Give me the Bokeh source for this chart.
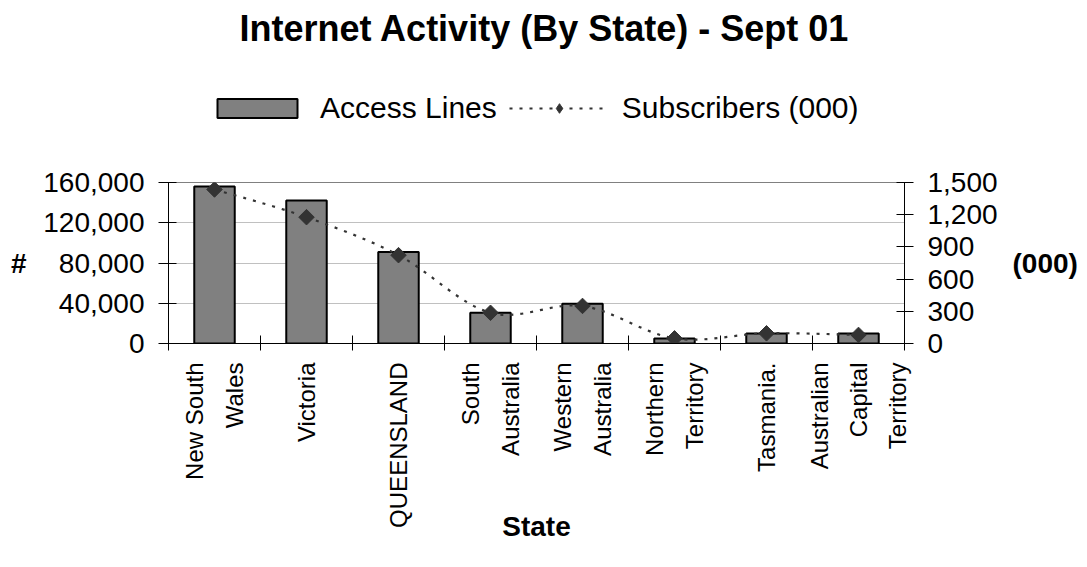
from math import pi
from bokeh.plotting import figure
from bokeh.layouts import column
from bokeh.models import (FactorRange, Range1d, LinearAxis, CategoricalAxis, FixedTicker,
                          NumeralTickFormatter, Legend, LegendItem, Label, Grid)
from bokeh.embed import file_html
from bokeh.resources import INLINE

# ---------------- data ----------------
states = ["New South\nWales", "Victoria", "QUEENSLAND", "South\nAustralia",
          "Western\nAustralia", "Northern\nTerritory", "Tasmania.",
          "Australian\nCapital\nTerritory"]
access_lines = [156000, 142000, 91000, 30500, 39500, 5000, 10000, 10000]
subscribers = [1435, 1177, 823, 286, 350, 48, 95, 80]
left_ticks = [0, 40000, 80000, 120000, 160000]
right_ticks = [0, 300, 600, 900, 1200, 1500]
title_text = "Internet Activity (By State) - Sept 01"
x_title = "State"
left_title = "#"
right_title = "(000)"
bar_name = "Access Lines"
line_name = "Subscribers (000)"

FONT = "Liberation Sans"
BAR_FILL = "#808080"
MARK = "#333333"
BAR_STYLE = dict(fill_color=BAR_FILL, line_color="black", line_width=2)
LINE_STYLE = dict(line_color=MARK, line_width=2.2, line_dash="3 7")
MARK_STYLE = dict(marker="square", angle=pi / 4, size=11, fill_color=MARK, line_color=MARK)

HEADER_H = 162

# ---------------- header: title + legend ----------------
# The header holds hidden copies of the series so that the legend swatches are
# drawn with the real glyph styles.
head = figure(width=1087, height=HEADER_H, x_range=FactorRange(*states),
              y_range=Range1d(-2, -1), title=None, output_backend="svg",
              toolbar_location=None, x_axis_location=None, y_axis_location=None,
              min_border=0)
head.outline_line_color = None
head.grid.visible = False
head.background_fill_color = "white"
head.border_fill_color = "white"

head.add_layout(Label(x=376, y=HEADER_H - 28, x_units="screen", y_units="screen",
                      text=title_text, text_font=FONT, text_font_size="36px",
                      text_font_style="bold", text_align="center",
                      text_baseline="middle", text_color="black"))

lg_bar = head.vbar(x=states, top=access_lines, width=0.44, visible=False, **BAR_STYLE)
lg_line = head.line(x=states, y=subscribers, visible=False, **LINE_STYLE)
lg_pts = head.scatter(x=states, y=subscribers, visible=False, marker="diamond",
                      size=16, fill_color=MARK, line_color=MARK)
legend = Legend(items=[LegendItem(label=bar_name, renderers=[lg_bar]),
                       LegendItem(label=line_name, renderers=[lg_line, lg_pts])],
                orientation="horizontal", location=(39, 37),
                glyph_width=100, glyph_height=24, label_standoff=13, spacing=12,
                padding=0, margin=0, border_line_color=None,
                background_fill_alpha=0, inactive_fill_alpha=0,
                label_text_font=FONT,
                label_text_font_size="30px", label_text_color="black")
head.add_layout(legend)

# ---------------- main chart ----------------
p = figure(width=1087, height=567 - HEADER_H, x_range=FactorRange(*states),
           y_range=Range1d(0, left_ticks[-1]), title=None,
           output_backend="svg", toolbar_location=None,
           x_axis_location=None, y_axis_location=None,
           min_border_left=168, min_border_right=183, min_border_top=20,
           min_border_bottom=224)
p.extra_y_ranges = {"subs": Range1d(0, right_ticks[-1])}
p.outline_line_color = "#808080"
p.outline_line_width = 1
p.background_fill_color = "white"
p.border_fill_color = "white"
p.grid.visible = False


def style_axis(ax, size="28px"):
    ax.axis_line_color = "black"
    ax.axis_line_width = 1
    ax.major_tick_line_color = "black"
    ax.major_tick_line_width = 1
    ax.minor_tick_line_color = None
    ax.major_label_text_font = FONT
    ax.major_label_text_font_size = size
    ax.major_label_text_color = "black"


def title_axis(ax, text, tick, standoff):
    ax.ticker = FixedTicker(ticks=[tick])
    ax.major_label_overrides = {tick: text}
    ax.axis_line_color = None
    ax.major_tick_line_color = None
    ax.minor_tick_line_color = None
    ax.major_tick_in = 0
    ax.major_tick_out = 0
    ax.major_label_standoff = standoff
    ax.major_label_text_font = FONT
    ax.major_label_text_font_size = "28px"
    ax.major_label_text_font_style = "bold"
    ax.major_label_text_color = "black"


yl = LinearAxis(ticker=FixedTicker(ticks=left_ticks),
                formatter=NumeralTickFormatter(format="0,0"))
style_axis(yl)
yl.major_tick_in = 8
yl.major_tick_out = 10
yl.major_label_standoff = 14
p.add_layout(yl, "left")

yl_t = LinearAxis()
title_axis(yl_t, left_title, (left_ticks[0] + left_ticks[-1]) // 2, 14)
p.add_layout(yl_t, "left")

yr = LinearAxis(y_range_name="subs", ticker=FixedTicker(ticks=right_ticks),
                formatter=NumeralTickFormatter(format="0,0"))
style_axis(yr)
yr.major_tick_in = 8
yr.major_tick_out = 9
yr.major_label_standoff = 14
p.add_layout(yr, "right")

yr_t = LinearAxis(y_range_name="subs")
title_axis(yr_t, right_title, (right_ticks[0] + right_ticks[-1]) // 2, 12)
p.add_layout(yr_t, "right")

# category boundary ticks (synthetic coordinates 0..n of the factor range)
edge_ticks = list(range(len(states) + 1))
xe = LinearAxis(ticker=FixedTicker(ticks=edge_ticks))
style_axis(xe, "1px")
xe.major_label_overrides = {t: "" for t in edge_ticks}
xe.major_tick_in = 8
xe.major_tick_out = 7
xe.major_label_standoff = 0
p.add_layout(xe, "below")

xc = CategoricalAxis()
style_axis(xc, "24px")
xc.axis_line_color = None
xc.major_tick_line_color = None
xc.major_tick_in = 0
xc.major_tick_out = 0
xc.major_label_standoff = 12
xc.major_label_orientation = pi / 2
xc.major_label_text_line_height = 1.45
xc.axis_label = x_title
xc.axis_label_text_font = FONT
xc.axis_label_text_font_size = "28px"
xc.axis_label_text_font_style = "bold"
xc.axis_label_text_color = "black"
xc.axis_label_standoff = -20
p.add_layout(xc, "below")

p.add_layout(Grid(dimension=1, ticker=yl.ticker, grid_line_color="#c0c0c0",
                  grid_line_width=1))

bars = p.vbar(x=states, top=access_lines, width=0.44, **BAR_STYLE)

# smoothed subscriber curve (Bezier segments between category centres)
n = len(states)
cx = [i + 0.5 for i in range(n)]
ext_x = [cx[0]] + cx + [cx[-1]]
ext_y = [subscribers[0]] + subscribers + [subscribers[-1]]
x0, y0, x1, y1, c0x, c0y, c1x, c1y = [], [], [], [], [], [], [], []
for i in range(n - 1):
    k = i + 1
    x0.append(ext_x[k]); y0.append(ext_y[k])
    x1.append(ext_x[k + 1]); y1.append(ext_y[k + 1])
    c0x.append(ext_x[k] + (ext_x[k + 1] - ext_x[k - 1]) / 6)
    c0y.append(ext_y[k] + (ext_y[k + 1] - ext_y[k - 1]) / 6)
    c1x.append(ext_x[k + 1] - (ext_x[k + 2] - ext_x[k]) / 6)
    c1y.append(ext_y[k + 1] - (ext_y[k + 2] - ext_y[k]) / 6)
p.bezier(x0=x0, y0=y0, x1=x1, y1=y1, cx0=c0x, cy0=c0y, cx1=c1x, cy1=c1y,
         y_range_name="subs", **LINE_STYLE)
p.scatter(x=states, y=subscribers, y_range_name="subs", **MARK_STYLE)

layout = column(head, p, spacing=0)
open("out.html", "w").write(file_html(layout, INLINE))
